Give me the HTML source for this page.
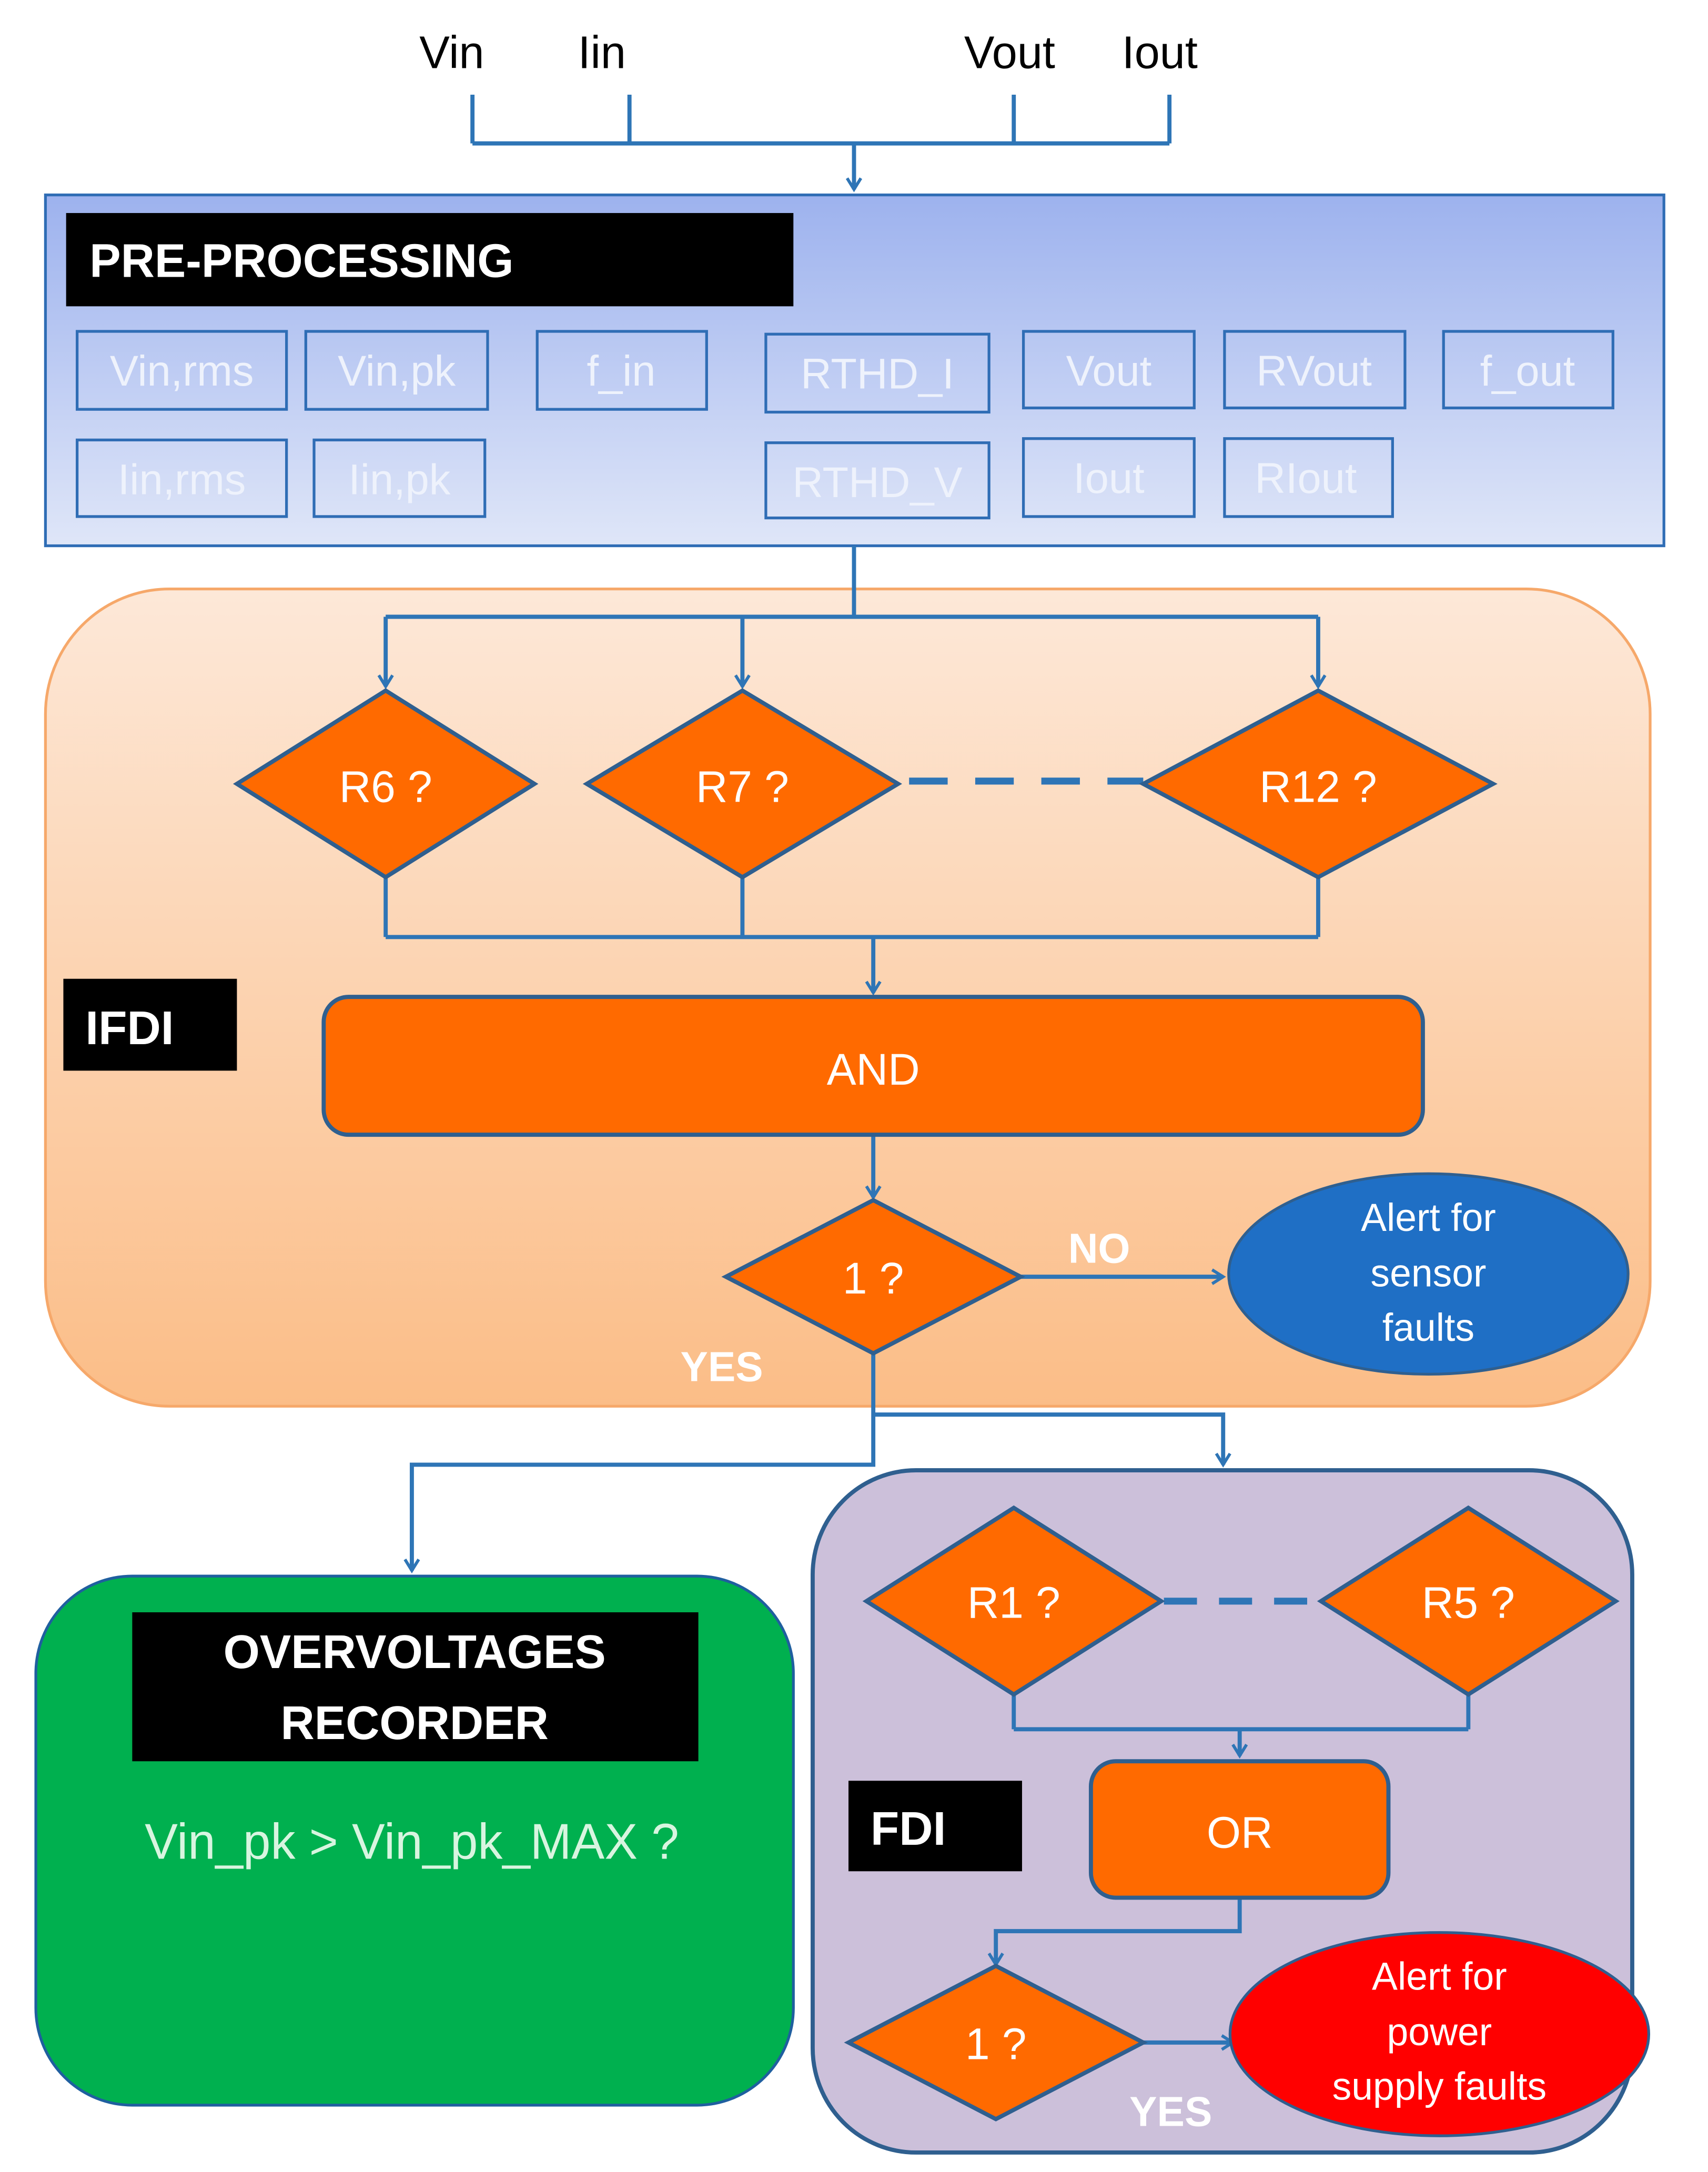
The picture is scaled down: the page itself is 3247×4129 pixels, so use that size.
<!DOCTYPE html>
<html><head><meta charset="utf-8"><style>
html,body{margin:0;padding:0;background:#fff;}
svg{display:block;}
text{font-family:"Liberation Sans",sans-serif;}
</style></head><body>
<svg width="3247" height="4129" viewBox="0 0 1240 1560" preserveAspectRatio="none" xmlns="http://www.w3.org/2000/svg">
<defs>
<linearGradient id="gb" x1="0" y1="0" x2="0" y2="1"><stop offset="0" stop-color="#9db2ee"/><stop offset="1" stop-color="#dfe6f8"/></linearGradient>
<linearGradient id="go" x1="0" y1="0" x2="0" y2="1"><stop offset="0" stop-color="#fde8d8"/><stop offset="1" stop-color="#fbbd87"/></linearGradient>
<marker id="ar" markerWidth="12" markerHeight="12" refX="9" refY="6" orient="auto" markerUnits="userSpaceOnUse"><path d="M1,1 L9,6 L1,11" fill="none" stroke="#2e75b6" stroke-width="2.2"/></marker>
</defs>
<g fill="#000" font-size="33">
<text x="328" y="49" text-anchor="middle">Vin</text>
<text x="437" y="49" text-anchor="middle">Iin</text>
<text x="733" y="49" text-anchor="middle">Vout</text>
<text x="842" y="49" text-anchor="middle">Iout</text>
</g>
<g stroke="#2e75b6" stroke-width="3" fill="none">
<path d="M343,68 V103 M457,68 V103 M736,68 V103 M849,68 V103 M343,103 H849"/>
<path d="M620,103 V136" marker-end="url(#ar)"/>
</g>
<rect x="33" y="140" width="1175" height="252" fill="url(#gb)" stroke="#2f6db5" stroke-width="2"/>
<rect x="48" y="153" width="528" height="67" fill="#000"/>
<text x="65" y="199" fill="#fff" font-size="34" font-weight="bold">PRE-PROCESSING</text>
<g fill="none" stroke="#2f6db5" stroke-width="2">
<rect x="56" y="238" width="152" height="56"/><rect x="222" y="238" width="132" height="56"/><rect x="390" y="238" width="123" height="56"/>
<rect x="556" y="240" width="162" height="56"/><rect x="743" y="238" width="124" height="55"/><rect x="889" y="238" width="131" height="55"/><rect x="1048" y="238" width="123" height="55"/>
<rect x="56" y="316" width="152" height="55"/><rect x="228" y="316" width="124" height="55"/><rect x="556" y="318" width="162" height="54"/><rect x="743" y="315" width="124" height="56"/><rect x="889" y="315" width="122" height="56"/>
</g>
<g fill="#eef2fc" font-size="31" text-anchor="middle">
<text x="132" y="277">Vin,rms</text><text x="288" y="277">Vin,pk</text><text x="451" y="277">f_in</text>
<text x="637" y="279">RTHD_I</text><text x="805" y="277">Vout</text><text x="954" y="277">RVout</text><text x="1109" y="277">f_out</text>
<text x="132" y="355">Iin,rms</text><text x="290" y="355">Iin,pk</text><text x="637" y="357">RTHD_V</text><text x="805" y="354">Iout</text><text x="948" y="354">RIout</text>
</g>
<rect x="33" y="423" width="1165" height="587" rx="90" fill="url(#go)" stroke="#f6a86a" stroke-width="2"/>
<g stroke="#2e75b6" stroke-width="3" fill="none">
<path d="M620,392 V443 M280,443 H957"/>
<path d="M280,443 V493" marker-end="url(#ar)"/><path d="M539,443 V493" marker-end="url(#ar)"/><path d="M957,443 V493" marker-end="url(#ar)"/>
<path d="M280,630 V673 M539,630 V673 M957,630 V673 M280,673 H957"/>
<path d="M634,673 V713" marker-end="url(#ar)"/>
<path d="M634,815 V860" marker-end="url(#ar)"/>
<path d="M741,917 H888" marker-end="url(#ar)"/>
<path d="M634,972 V1052 H299 V1128" marker-end="url(#ar)"/>
<path d="M634,1016 H888 V1052" marker-end="url(#ar)"/>
</g>
<path d="M660,561 H830" stroke="#2e75b6" stroke-width="5" stroke-dasharray="28,20"/>
<g fill="#ff6a00" stroke="#2f5f8f" stroke-width="3">
<polygon points="172,563 280,496 388,563 280,630"/>
<polygon points="426,563 539,496 652,563 539,630"/>
<polygon points="830,563 957,496 1084,563 957,630"/>
<rect x="235" y="716" width="798" height="99" rx="18"/>
<polygon points="527,917 634,862 741,917 634,972"/>
</g>
<g fill="#fff" font-size="32" text-anchor="middle">
<text x="280" y="576">R6 ?</text><text x="539" y="576">R7 ?</text><text x="957" y="576">R12 ?</text>
<text x="634" y="779">AND</text><text x="634" y="929">1 ?</text>
</g>
<rect x="46" y="703" width="126" height="66" fill="#000"/>
<text x="62" y="750" fill="#fff" font-size="34" font-weight="bold">IFDI</text>
<text x="798" y="907" fill="#fff" font-size="30" font-weight="bold" text-anchor="middle">NO</text>
<text x="524" y="992" fill="#fff" font-size="30" font-weight="bold" text-anchor="middle">YES</text>
<ellipse cx="1037" cy="915" rx="145" ry="72" fill="#1f6fc5" stroke="#2f5f8f" stroke-width="2"/>
<g fill="#fff" font-size="28" text-anchor="middle">
<text x="1037" y="884">Alert for</text><text x="1037" y="924">sensor</text><text x="1037" y="963">faults</text>
</g>
<rect x="26" y="1132" width="550" height="380" rx="70" fill="#00b04f" stroke="#1f5f9f" stroke-width="2"/>
<rect x="96" y="1158" width="411" height="107" fill="#000"/>
<g fill="#fff" font-size="34" font-weight="bold" text-anchor="middle">
<text x="301" y="1198">OVERVOLTAGES</text><text x="301" y="1249">RECORDER</text>
</g>
<text x="299" y="1335" fill="#d8f5e0" font-size="36" text-anchor="middle">Vin_pk &gt; Vin_pk_MAX ?</text>
<rect x="590" y="1056" width="595" height="490" rx="75" fill="#ccc0da" stroke="#2f5f8f" stroke-width="3"/>
<g stroke="#2e75b6" stroke-width="3" fill="none">
<path d="M736,1217 V1242 M1066,1217 V1242 M736,1242 H1066"/>
<path d="M900,1242 V1261" marker-end="url(#ar)"/>
<path d="M900,1363 V1387 H723 V1411" marker-end="url(#ar)"/>
<path d="M830,1467 H895" marker-end="url(#ar)"/>
</g>
<path d="M845,1150 H958" stroke="#2e75b6" stroke-width="5" stroke-dasharray="24,16"/>
<g fill="#ff6a00" stroke="#2f5f8f" stroke-width="3">
<polygon points="629,1150 736,1083 843,1150 736,1217"/>
<polygon points="959,1150 1066,1083 1173,1150 1066,1217"/>
<rect x="792" y="1265" width="216" height="98" rx="18"/>
<polygon points="616,1467 723,1412 830,1467 723,1522"/>
</g>
<g fill="#fff" font-size="32" text-anchor="middle">
<text x="736" y="1162">R1 ?</text><text x="1066" y="1162">R5 ?</text><text x="900" y="1327">OR</text><text x="723" y="1479">1 ?</text>
</g>
<rect x="616" y="1279" width="126" height="65" fill="#000"/>
<text x="632" y="1325" fill="#fff" font-size="34" font-weight="bold">FDI</text>
<ellipse cx="1045" cy="1461" rx="152" ry="73" fill="#ff0000" stroke="#2f5f8f" stroke-width="2"/>
<g fill="#fff" font-size="28" text-anchor="middle">
<text x="1045" y="1429">Alert for</text><text x="1045" y="1469">power</text><text x="1045" y="1508">supply faults</text>
</g>
<text x="850" y="1527" fill="#fff" font-size="30" font-weight="bold" text-anchor="middle">YES</text>
</svg>
</body></html>
